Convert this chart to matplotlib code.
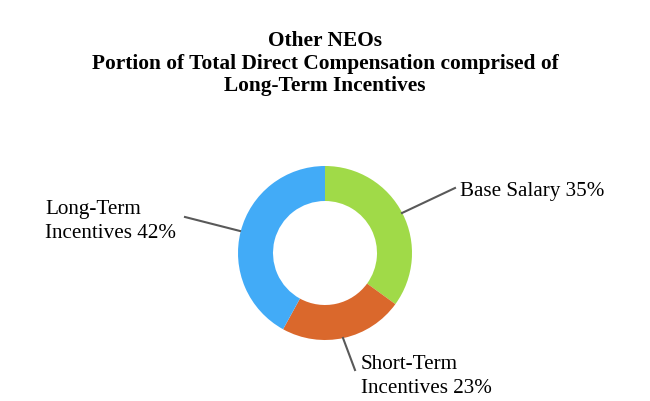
import matplotlib
matplotlib.use("Agg")
import matplotlib.pyplot as plt

# Data
categories = ["Base Salary", "Short-Term\nIncentives", "Long-Term\nIncentives"]
values = [35, 23, 42]
colors = ["#A0DA48", "#DA682C", "#42ABF7"]
title_lines = ["Other NEOs",
               "Portion of Total Direct Compensation comprised of",
               "Long-Term Incentives"]

W, H = 650, 402
fig = plt.figure(figsize=(W / 100, H / 100), dpi=100)
ax = fig.add_axes([0, 0, 1, 1])

def Y(y):
    return H - y

cx, cy, R, r = 325, 254, 87, 52
ax.pie(values, colors=colors, startangle=90, counterclock=False,
       center=(cx, Y(cy)), radius=R,
       wedgeprops=dict(width=R - r, edgecolor="none"), frame=True)
ax.set_xlim(0, W)
ax.set_ylim(0, H)
ax.set_aspect("equal")
ax.axis("off")

serif = "Liberation Serif"
fig.text(0.5, 1 - 63.5 / H, "\n".join(title_lines), ha="center", va="center",
         fontsize=15.4, fontweight="bold", family=serif, linespacing=1.2)

# leader lines (from wedge edge to label)
lc = "#595959"
ax.plot([402, 455], [Y(214), Y(189)], color=lc, lw=1.5)
ax.plot([240, 185], [Y(232), Y(218)], color=lc, lw=1.5)
ax.plot([343, 355], [Y(339), Y(371)], color=lc, lw=1.5)

lab = [f"{c} {v}%" for c, v in zip(categories, values)]
ax.text(460, Y(196), lab[0], ha="left", va="baseline", fontsize=15.2, family=serif)
ax.text(361, Y(393), lab[1], ha="left", va="baseline", fontsize=15.2, family=serif, linespacing=1.35)
ax.text(45, Y(238), lab[2], ha="left", va="baseline", fontsize=15.2, family=serif, linespacing=1.35)

fig.savefig("out.png", dpi=100)
